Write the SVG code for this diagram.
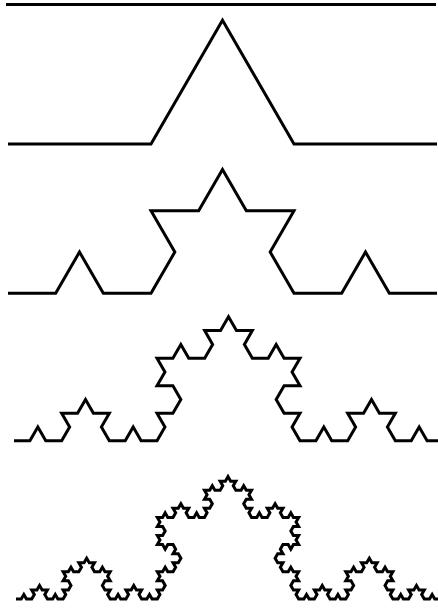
<svg xmlns="http://www.w3.org/2000/svg" width="438" height="609" viewBox="0 0 438 609">
<style>
.k{fill:none;stroke:#000;stroke-width:3;stroke-linejoin:miter;stroke-linecap:butt;vector-effect:non-scaling-stroke}
</style>
<rect width="438" height="609" fill="#fff"/>
<g id="koch0"><path class="k" d="M6 4.5 L436 4.5"/></g>
<g id="koch1"><path class="k" d="M8 144 L151 144 L222.5 20.2 L294 144 L437 144"/></g>
<g id="koch2" transform="translate(8 293.3) scale(47.667)"><path class="k" d="M0 0 l1 0 .5 -.866 .5 .866 1 0 .5 -.866 -.5 -.866 1 0 .5 -.866 .5 .866 1 0 -.5 .866 .5 .866 1 0 .5 -.866 .5 .866 1 0"/></g>
<g id="koch3" transform="translate(14 440.7) scale(15.889)"><path class="k" d="M0 0 l1 0 .5 -.866 .5 .866 1 0 .5 -.866 -.5 -.866 1 0 .5 -.866 .5 .866 1 0 -.5 .866 .5 .866 1 0 .5 -.866 .5 .866 1 0
.5 -.866 -.5 -.866 1 0 .5 -.866 -.5 -.866 -1 0 .5 -.866 -.5 -.866 1 0 .5 -.866 .5 .866 1 0 .5 -.866 -.5 -.866 1 0 .5 -.866
.5 .866 1 0 -.5 .866 .5 .866 1 0 .5 -.866 .5 .866 1 0 -.5 .866 .5 .866 -1 0 -.5 .866 .5 .866 1 0 -.5 .866 .5 .866
1 0 .5 -.866 .5 .866 1 0 .5 -.866 -.5 -.866 1 0 .5 -.866 .5 .866 1 0 -.5 .866 .5 .866 1 0 .5 -.866 .5 .866 1 0"/></g>
<g id="koch4" transform="translate(16 599) scale(5.2346)"><path class="k" d="M0 0 l1 0 .5 -.866 .5 .866 1 0 .5 -.866 -.5 -.866 1 0 .5 -.866 .5 .866 1 0 -.5 .866 .5 .866 1 0 .5 -.866 .5 .866 1 0
.5 -.866 -.5 -.866 1 0 .5 -.866 -.5 -.866 -1 0 .5 -.866 -.5 -.866 1 0 .5 -.866 .5 .866 1 0 .5 -.866 -.5 -.866 1 0 .5 -.866
.5 .866 1 0 -.5 .866 .5 .866 1 0 .5 -.866 .5 .866 1 0 -.5 .866 .5 .866 -1 0 -.5 .866 .5 .866 1 0 -.5 .866 .5 .866
1 0 .5 -.866 .5 .866 1 0 .5 -.866 -.5 -.866 1 0 .5 -.866 .5 .866 1 0 -.5 .866 .5 .866 1 0 .5 -.866 .5 .866 1 0
.5 -.866 -.5 -.866 1 0 .5 -.866 -.5 -.866 -1 0 .5 -.866 -.5 -.866 1 0 .5 -.866 .5 .866 1 0 .5 -.866 -.5 -.866 1 0 .5 -.866
-.5 -.866 -1 0 .5 -.866 -.5 -.866 -1 0 -.5 .866 -.5 -.866 -1 0 .5 -.866 -.5 -.866 1 0 .5 -.866 -.5 -.866 -1 0 .5 -.866 -.5 -.866
1 0 .5 -.866 .5 .866 1 0 .5 -.866 -.5 -.866 1 0 .5 -.866 .5 .866 1 0 -.5 .866 .5 .866 1 0 .5 -.866 .5 .866 1 0
.5 -.866 -.5 -.866 1 0 .5 -.866 -.5 -.866 -1 0 .5 -.866 -.5 -.866 1 0 .5 -.866 .5 .866 1 0 .5 -.866 -.5 -.866 1 0 .5 -.866
.5 .866 1 0 -.5 .866 .5 .866 1 0 .5 -.866 .5 .866 1 0 -.5 .866 .5 .866 -1 0 -.5 .866 .5 .866 1 0 -.5 .866 .5 .866
1 0 .5 -.866 .5 .866 1 0 .5 -.866 -.5 -.866 1 0 .5 -.866 .5 .866 1 0 -.5 .866 .5 .866 1 0 .5 -.866 .5 .866 1 0
-.5 .866 .5 .866 -1 0 -.5 .866 .5 .866 1 0 -.5 .866 .5 .866 -1 0 -.5 .866 -.5 -.866 -1 0 -.5 .866 .5 .866 -1 0 -.5 .866
.5 .866 1 0 -.5 .866 .5 .866 1 0 .5 -.866 .5 .866 1 0 -.5 .866 .5 .866 -1 0 -.5 .866 .5 .866 1 0 -.5 .866 .5 .866
1 0 .5 -.866 .5 .866 1 0 .5 -.866 -.5 -.866 1 0 .5 -.866 .5 .866 1 0 -.5 .866 .5 .866 1 0 .5 -.866 .5 .866 1 0
.5 -.866 -.5 -.866 1 0 .5 -.866 -.5 -.866 -1 0 .5 -.866 -.5 -.866 1 0 .5 -.866 .5 .866 1 0 .5 -.866 -.5 -.866 1 0 .5 -.866
.5 .866 1 0 -.5 .866 .5 .866 1 0 .5 -.866 .5 .866 1 0 -.5 .866 .5 .866 -1 0 -.5 .866 .5 .866 1 0 -.5 .866 .5 .866
1 0 .5 -.866 .5 .866 1 0 .5 -.866 -.5 -.866 1 0 .5 -.866 .5 .866 1 0 -.5 .866 .5 .866 1 0 .5 -.866 .5 .866 1 0"/></g>
</svg>
